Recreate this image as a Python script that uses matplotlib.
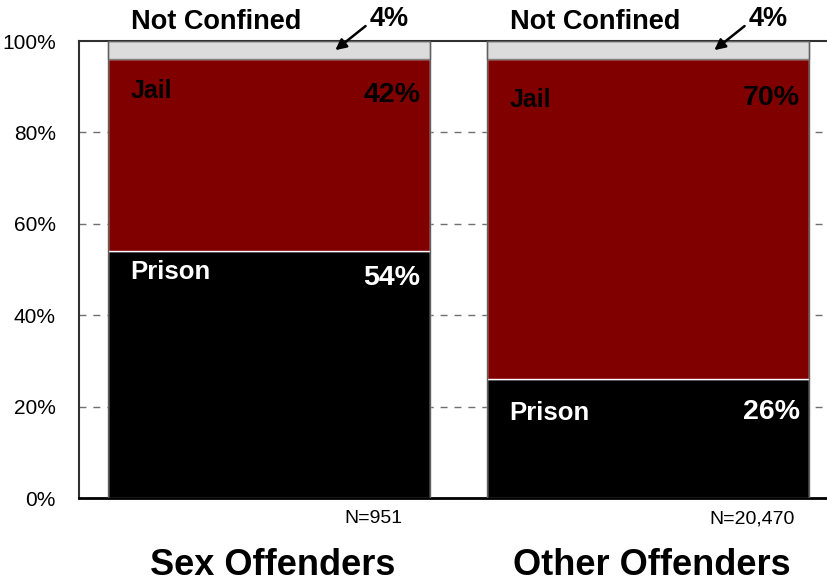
import numpy as np
import matplotlib.pyplot as plt
from matplotlib.transforms import blended_transform_factory

# Sentence type by offender group (percent of convicted felons)
groups = ['Sex Offenders', 'Other Offenders']
prison = [54, 26]
jail = [42, 70]
not_confined = [4, 4]
sample_n = ['N=951', 'N=20,470']

plt.rcParams['font.family'] = ['Liberation Sans', 'DejaVu Sans']

x = np.arange(len(groups))
width = 0.85
prison = np.array(prison)
jail = np.array(jail)
not_confined = np.array(not_confined)

# how far below each segment top the labels sit (jail name, jail %, prison name, prison %)
label_drop = [(7, 7.8, 4.5, 5.9), (9, 8.5, 7.4, 7.2)]

fig = plt.figure(figsize=(8.27, 5.85), dpi=100)
ax = fig.add_axes([0.0961, 0.1487, 0.9166, 0.7812])

# dashed grid behind the bars
for yv in [20, 40, 60, 80]:
    ax.axhline(yv, color='#707070', lw=1, ls=(0, (5, 5)), zorder=0)

ax.bar(x, prison, width, color='black', edgecolor='white', lw=1, zorder=2)
ax.bar(x, jail, width, bottom=prison, color='#800000', edgecolor='white', lw=1, zorder=2)
ax.bar(x, not_confined, width, bottom=prison + jail, color='#dcdcdc',
       edgecolor='#808080', lw=1, zorder=2)
ax.bar(x, prison + jail + not_confined, width, fill=False, edgecolor='#606060',
       lw=1, zorder=3)

ax.set_xlim(-0.5, 1.5)
ax.set_ylim(0, 100)
ax.set_yticks(range(0, 101, 20))
ax.set_yticklabels([f'{v}%' for v in range(0, 101, 20)], fontsize=15)
ax.tick_params(axis='y', length=0, pad=17)
ax.set_xticks([])

for side in ['left', 'top']:
    ax.spines[side].set_color('#303030')
    ax.spines[side].set_linewidth(1.5)
ax.spines['bottom'].set_linewidth(2)
ax.spines['right'].set_visible(False)

trans = blended_transform_factory(ax.transData, ax.transAxes)

for i in range(len(groups)):
    left = x[i] - width / 2
    right = x[i] + width / 2
    jail_top = prison[i] + jail[i]
    d_jail, d_jail_pct, d_prison, d_prison_pct = label_drop[i]

    ax.text(left + 0.06, jail_top - d_jail, 'Jail', fontsize=18, fontweight='bold',
            color='black', ha='left', va='center', zorder=4)
    ax.text(right - 0.025, jail_top - d_jail_pct, f'{jail[i]}%', fontsize=20.5,
            fontweight='bold', color='black', ha='right', va='center', zorder=4)
    ax.text(left + 0.06, prison[i] - d_prison, 'Prison', fontsize=18.5,
            fontweight='bold', color='white', ha='left', va='center', zorder=4)
    ax.text(right - 0.025, prison[i] - d_prison_pct, f'{prison[i]}%', fontsize=20.5,
            fontweight='bold', color='white', ha='right', va='center', zorder=4)

    # not confined label with arrow pointing at the thin top segment
    ax.text(x[i] - 0.14, 104.2, 'Not Confined', fontsize=19.5, fontweight='bold',
            ha='center', va='center', clip_on=False)
    ax.annotate(f'{not_confined[i]}%', xy=(x[i] + 0.175, 98),
                xytext=(x[i] + 0.265, 104.8), fontsize=19.5, fontweight='bold',
                ha='left', va='center', annotation_clip=False,
                arrowprops=dict(arrowstyle='-|>', color='black', lw=1.8,
                                relpos=(0, 0.35), shrinkA=1, shrinkB=0,
                                mutation_scale=16))

    ax.text(x[i] + 0.275, -0.045, sample_n[i], transform=trans, fontsize=14,
            ha='center', va='center')
    ax.text(x[i] + 0.01, -0.147, groups[i], transform=trans, fontsize=26,
            fontweight='bold', ha='center', va='center')

fig.savefig('out.png', dpi=100)
